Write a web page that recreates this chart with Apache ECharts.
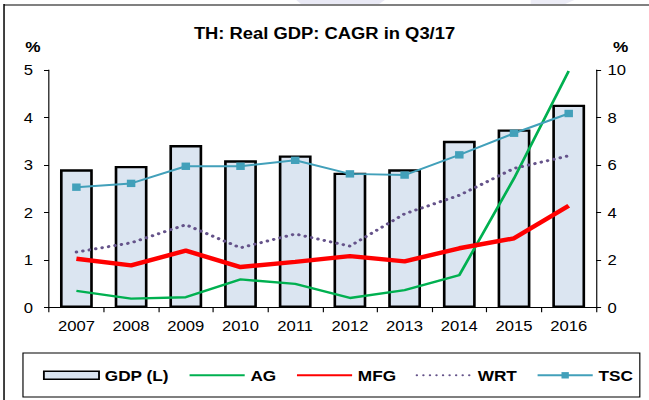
<!DOCTYPE html>
<html>
<head>
<meta charset="utf-8">
<script src="https://cdn.jsdelivr.net/npm/echarts@6/dist/echarts.min.js"></script>
<style>
  html, body { margin: 0; padding: 0; background: #ffffff; overflow: hidden; }
  #wrap { width: 649px; height: 400px; overflow: hidden; position: relative; }
  /* the chart is laid out narrower and widened to the page width */
  #chart { width: 565px; height: 400px; transform: scaleX(1.1487); transform-origin: 0 0; }
</style>
</head>
<body>
<div id="wrap"><div id="chart"></div></div>
<script>
const years = ['2007', '2008', '2009', '2010', '2011', '2012', '2013', '2014', '2015', '2016'];
const gdp = [2.91, 2.98, 3.42, 3.10, 3.20, 2.84, 2.91, 3.51, 3.75, 4.27];
const ag  = [0.71, 0.38, 0.44, 1.19, 1.00, 0.41, 0.74, 1.37, 5.44, 9.96];
const mfg = [2.06, 1.78, 2.40, 1.71, 1.93, 2.17, 1.95, 2.50, 2.92, 4.29];
const wrt = [2.34, 2.73, 3.49, 2.52, 3.10, 2.59, 3.95, 4.73, 5.86, 6.39];
const tsc = [5.07, 5.23, 5.95, 5.95, 6.20, 5.63, 5.58, 6.43, 7.34, 8.17];
const leftTicks = { min: 0, max: 5, interval: 1 };
const rightTicks = { min: 0, max: 10, interval: 2 };
const titleText = 'TH: Real GDP: CAGR in Q3/17';

const FONT = '"Liberation Sans", Arial, sans-serif';
const BAR_FILL = '#dbe5f1';
const C_AG = '#00b050';
const C_MFG = '#ff0000';
const C_WRT = '#65538a';
const C_TSC = '#42a0ba';

const chart = echarts.init(document.getElementById('chart'), null, { renderer: 'svg', width: 565, height: 400 });

const axisLabelStyle = { color: '#000', fontFamily: FONT, fontSize: 14.5 };
// plain line keys in the legend: no marker drawn on them
const noMarker = { color: 'rgba(0,0,0,0)', borderWidth: 0, opacity: 0 };

chart.setOption({
  animation: false,
  backgroundColor: '#ffffff',
  title: {
    text: titleText,
    left: 'center',
    top: 25,
    padding: 0,
    textStyle: { fontFamily: FONT, fontSize: 16, fontWeight: 'bold', color: '#000' }
  },
  grid: { left: 42.7, right: 46.1, top: 70, bottom: 92.3 },
  legend: {
    left: 37.4,
    top: 367.8,
    padding: 0,
    itemWidth: 48,
    itemHeight: 8,
    itemGap: 17,
    textStyle: { fontFamily: FONT, fontSize: 15, fontWeight: 'bold', color: '#000' },
    data: [
      { name: 'GDP (L)', icon: 'rect', itemStyle: { color: BAR_FILL, borderColor: '#000', borderWidth: 1.6 } },
      { name: 'AG', itemStyle: noMarker },
      { name: 'MFG', itemStyle: noMarker },
      { name: 'WRT', itemStyle: noMarker },
      { name: 'TSC' }
    ]
  },
  xAxis: {
    type: 'category',
    data: years,
    boundaryGap: true,
    axisLine: { show: true, lineStyle: { color: '#000', width: 1 } },
    axisTick: { show: true, length: 4.5, lineStyle: { color: '#000' } },
    axisLabel: Object.assign({ margin: 11 }, axisLabelStyle),
    splitLine: { show: false }
  },
  yAxis: [
    {
      type: 'value',
      position: 'left',
      min: leftTicks.min, max: leftTicks.max, interval: leftTicks.interval,
      axisLine: { show: true, lineStyle: { color: '#000', width: 1 } },
      axisTick: { show: true, length: 4.4, lineStyle: { color: '#000' } },
      axisLabel: Object.assign({ margin: 14 }, axisLabelStyle),
      splitLine: { show: false }
    },
    {
      type: 'value',
      position: 'right',
      min: rightTicks.min, max: rightTicks.max, interval: rightTicks.interval,
      axisLine: { show: true, lineStyle: { color: '#000', width: 1 } },
      axisTick: { show: true, length: 4.4, lineStyle: { color: '#000' } },
      axisLabel: Object.assign({ margin: 10 }, axisLabelStyle),
      splitLine: { show: false }
    }
  ],
  series: [
    {
      name: 'GDP (L)',
      type: 'bar',
      yAxisIndex: 0,
      data: gdp,
      barWidth: '60%',
      itemStyle: { color: BAR_FILL, borderColor: '#000', borderWidth: 2.3 }
    },
    {
      name: 'AG',
      type: 'line',
      yAxisIndex: 1,
      data: ag,
      symbol: 'none',
      lineStyle: { color: C_AG, width: 2.4 },
      itemStyle: { color: C_AG }
    },
    {
      name: 'MFG',
      type: 'line',
      yAxisIndex: 1,
      data: mfg,
      symbol: 'none',
      lineStyle: { color: C_MFG, width: 4.4 },
      itemStyle: { color: C_MFG }
    },
    {
      name: 'WRT',
      type: 'line',
      yAxisIndex: 1,
      data: wrt,
      symbol: 'none',
      lineStyle: { color: C_WRT, width: 3, type: [0.1, 5.6], cap: 'round' },
      itemStyle: { color: C_WRT }
    },
    {
      name: 'TSC',
      type: 'line',
      yAxisIndex: 1,
      data: tsc,
      symbol: 'rect',
      symbolSize: 7.4,
      lineStyle: { color: C_TSC, width: 2 },
      itemStyle: { color: C_TSC }
    }
  ],
  graphic: [
    // faint marks along the top edge
    { type: 'polygon', silent: true, shape: { points: [[258, 0], [335, 0], [330, 4], [262, 4]] }, style: { fill: '#e9e9f5' } },
    { type: 'polygon', silent: true, shape: { points: [[462, 0], [500, 0], [492, 4], [462, 4]] }, style: { fill: '#ececf6' } },
    // outer frame
    { type: 'line', silent: true, shape: { x1: 3.5, y1: 5, x2: 565, y2: 5 }, style: { stroke: '#808080', lineWidth: 2 } },
    { type: 'line', silent: true, shape: { x1: 3.5, y1: 4, x2: 3.5, y2: 400 }, style: { stroke: '#000', lineWidth: 1.3 } },
    // legend box
    { type: 'rect', silent: true, shape: { x: 20, y: 353, width: 537, height: 44 }, style: { fill: 'none', stroke: '#000', lineWidth: 1 } },
    // axis unit labels
    { type: 'text', silent: true, x: 28.7, y: 46, style: { text: '%', fontFamily: FONT, fontSize: 15, fontWeight: 'bold', fill: '#000', align: 'center', verticalAlign: 'middle' } },
    { type: 'text', silent: true, x: 540.2, y: 46, style: { text: '%', fontFamily: FONT, fontSize: 15, fontWeight: 'bold', fill: '#000', align: 'center', verticalAlign: 'middle' } }
  ]
});
</script>
</body>
</html>
